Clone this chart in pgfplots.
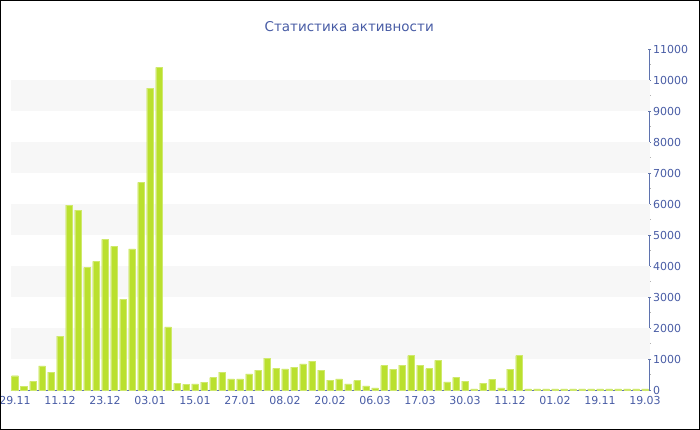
\documentclass[border=0pt]{standalone}
\usepackage{pgfplots}
\pgfplotsset{compat=1.18}
\usepackage{fontspec}
\setmainfont{DejaVu Sans}
\definecolor{bluetxt}{RGB}{72,92,165}
\definecolor{axisblue}{RGB}{95,115,175}
\definecolor{barc}{RGB}{186,224,46}
\definecolor{band}{RGB}{247,247,247}
\begin{document}
\begin{tikzpicture}
\useasboundingbox (-10.5bp,-40bp) rectangle (689.5bp,390bp);
\begin{axis}[
  at={(0,0)}, anchor=south west,
  scale only axis,
  width=639bp, height=341bp,
  xmin=-0.5, xmax=70.5,
  ymin=0, ymax=11000,
  axis x line*=bottom,
  axis y line*=right,
  axis line style={axisblue, line width=0.8bp},
  ytick={0,1000,...,11000},
  minor y tick num=1,
  xtick={0,5,...,70},
  xticklabels={29.11,11.12,23.12,03.01,15.01,27.01,08.02,20.02,06.03,17.03,30.03,11.12,01.02,19.11,19.03},
  major tick length=3bp,
  minor tick length=2bp,
  tick style={axisblue!80!gray, line width=0.6bp},
  minor tick style={gray!60},
  tick align=center,
  scaled y ticks=false,
  /pgf/number format/assume math mode=true,
  yticklabel style={font=\fontsize{11bp}{13bp}\selectfont, text=bluetxt, xshift=-1.5bp, /pgf/number format/.cd, 1000 sep={}},
  xticklabel style={font=\fontsize{11bp}{13bp}\selectfont, text=bluetxt, yshift=-1bp},
  title={Статистика активности},
  title style={font=\fontsize{13.5bp}{16bp}\selectfont, text=bluetxt, at={(0.53,1)}, yshift=8bp},
  clip=false,
]
\foreach \lo in {1000,3000,5000,7000,9000}{
  \edef\tmp{\noexpand\fill[band] (axis cs:-0.5,\lo) rectangle (axis cs:70.5,\lo+1000);}
  \tmp
}
\addplot[ybar, bar width=6.6bp, fill=barc, draw=barc!70!white, line width=0.4bp] coordinates {
(0,460) (1,115) (2,280) (3,775) (4,580) (5,1735) (6,5960) (7,5800) (8,3950) (9,4150)
(10,4860) (11,4635) (12,2925) (13,4550) (14,6700) (15,9740) (16,10410) (17,2040) (18,215) (19,185)
(20,195) (21,250) (22,400) (23,580) (24,355) (25,355) (26,520) (27,645) (28,1030) (29,700)
(30,680) (31,740) (32,840) (33,935) (34,645) (35,320) (36,355) (37,195) (38,300) (39,130)
(40,65) (41,785) (42,670) (43,805) (44,1110) (45,805) (46,690) (47,955) (48,260) (49,410)
(50,290) (51,40) (52,225) (53,345) (54,65) (55,670) (56,1110) (57,40) (58,40) (59,40)
(60,40) (61,40) (62,40) (63,40) (64,40) (65,40) (66,40) (67,40) (68,40) (69,40) (70,40)
};
\end{axis}
\draw[black, line width=1.5bp] (-9.75bp,-39.25bp) rectangle (688.75bp,389.25bp);
\end{tikzpicture}
\end{document}
